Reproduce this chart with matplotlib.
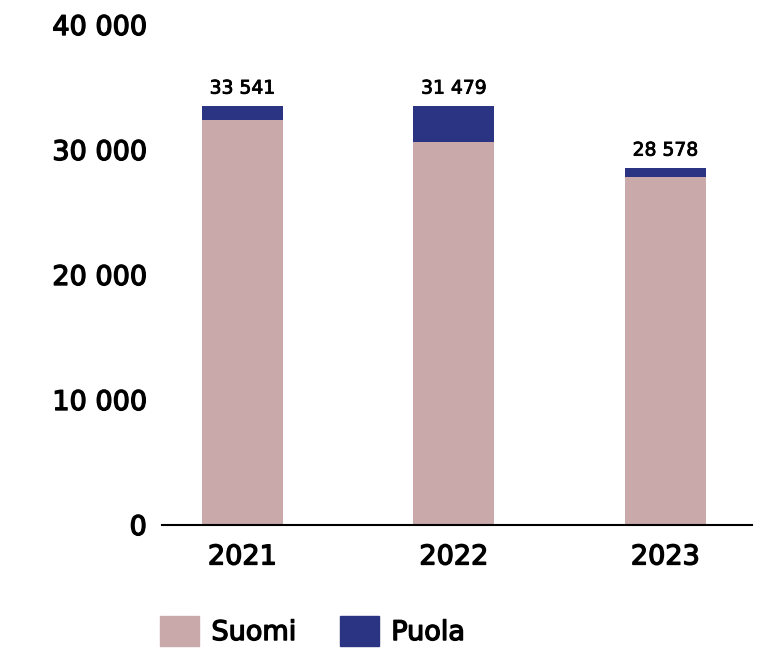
import matplotlib
matplotlib.use("Agg")
from matplotlib import pyplot as plt
from matplotlib.patches import Patch
import matplotlib.patheffects as pe

years = ["2021", "2022", "2023"]
suomi = [32400, 30660, 27820]
puola = [1140, 2880, 760]
total_labels = ["33 541", "31 479", "28 578"]

suomi_color = "#c9a9aa"
puola_color = "#2b3483"

plt.rcParams["font.family"] = ["DejaVu Sans"]

# a thin outline to thicken the regular weight towards a medium one
medium = [pe.withStroke(linewidth=1.0, foreground="black")]
medium_small = [pe.withStroke(linewidth=0.6, foreground="black")]

fig = plt.figure(figsize=(7.66, 6.49), dpi=100)
ax = fig.add_axes([162 / 766, 124 / 649, 590 / 766, 500 / 649])

x = list(range(len(years)))
ax.bar(x, suomi, width=0.383, color=suomi_color)
ax.bar(x, puola, width=0.383, bottom=suomi, color=puola_color)

for i in x:
    ax.text(i, suomi[i] + puola[i] + 650, total_labels[i], ha="center", va="bottom",
            fontsize=13.5, path_effects=medium_small)

ax.set_xlim(-0.38, 2.41)
ax.set_ylim(0, 40000)
ax.set_yticks([0, 10000, 20000, 30000, 40000])
ax.set_yticklabels(["0", "10 000", "20 000", "30 000", "40 000"])
ax.set_xticks(x)
ax.set_xticklabels(years)
ax.tick_params(axis="y", length=0, pad=11, labelsize=19.5)
ax.tick_params(axis="x", length=0, pad=14, labelsize=19.5)
for lab in ax.get_xticklabels() + ax.get_yticklabels():
    lab.set_path_effects(medium)

for side in ["top", "right", "left"]:
    ax.spines[side].set_visible(False)
ax.spines["bottom"].set_linewidth(1.5)

handles = [Patch(color=suomi_color, label="Suomi"), Patch(color=puola_color, label="Puola")]
leg = fig.legend(handles=handles, loc="center left", bbox_to_anchor=(160 / 766, 18 / 649), ncol=2,
                 frameon=False, prop={"size": 19.5}, handlelength=1.45,
                 handleheight=1.35, handletextpad=0.45, columnspacing=1.6, borderpad=0,
                 borderaxespad=0)
for t in leg.get_texts():
    t.set_path_effects(medium)

fig.savefig("out.png", dpi=100, facecolor="white")
